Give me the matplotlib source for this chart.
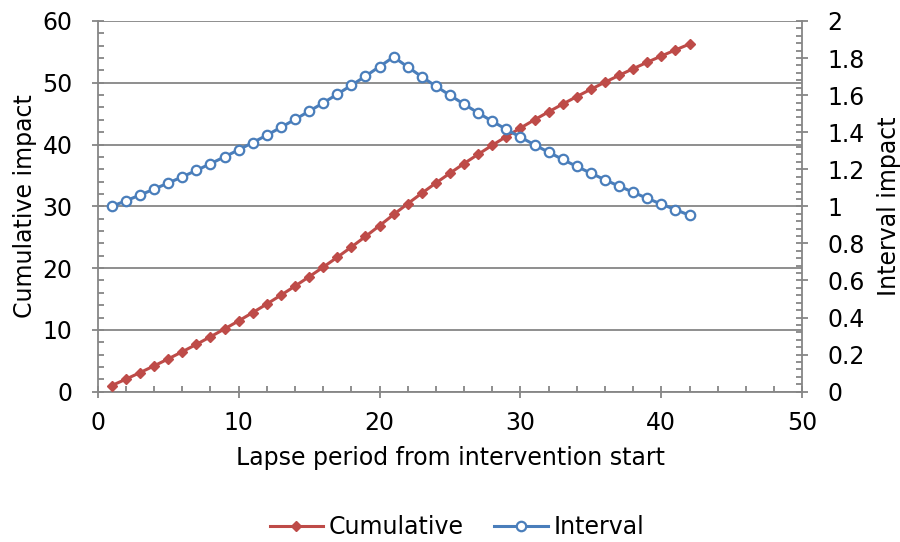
import matplotlib
matplotlib.use("Agg")
import matplotlib.pyplot as plt
from matplotlib.ticker import MultipleLocator, FuncFormatter

# lapse periods 1..42
periods = list(range(1, 43))

interval = [1.000, 1.030, 1.061, 1.093, 1.126, 1.159, 1.194, 1.230, 1.267, 1.305,
            1.344, 1.384, 1.426, 1.469, 1.513, 1.558, 1.605, 1.653, 1.702, 1.754,
            1.806, 1.752, 1.699, 1.648, 1.599, 1.551, 1.504, 1.459, 1.415, 1.373,
            1.332, 1.292, 1.253, 1.215, 1.179, 1.143, 1.109, 1.076, 1.043, 1.012,
            0.982, 0.952]

cumulative = [1.00, 2.03, 3.09, 4.18, 5.31, 6.47, 7.66, 8.89, 10.16, 11.46,
              12.81, 14.19, 15.62, 17.09, 18.60, 20.16, 21.76, 23.41, 25.12, 26.87,
              28.68, 30.43, 32.13, 33.78, 35.37, 36.93, 38.43, 39.89, 41.30, 42.68,
              44.01, 45.30, 46.55, 47.77, 48.95, 50.09, 51.20, 52.28, 53.32, 54.33,
              55.31, 56.27]

RED = "#BE4B48"
BLUE = "#4A7EBB"
GRAY = "#868686"
FS = 17

plt.rcParams["font.family"] = ["DejaVu Sans"]

fig = plt.figure(figsize=(9, 5.42), dpi=100)
ax = fig.add_axes([0.1086, 0.2773, 0.7828, 0.684])
ax2 = ax.twinx()

ax.plot(periods, cumulative, color=RED, lw=2.2, marker="D", ms=4.8,
        mfc=RED, mec=RED, label="Cumulative", clip_on=False, zorder=3)
ax2.plot(periods, interval, color=BLUE, lw=2.2, marker="o", ms=6.8,
         mfc="white", mec=BLUE, mew=1.6, label="Interval", clip_on=False, zorder=3)

ax.set_xlim(0, 50)
ax.set_ylim(0, 60)
ax2.set_ylim(0, 2)

ax.xaxis.set_major_locator(MultipleLocator(10))
ax.xaxis.set_minor_locator(MultipleLocator(2))
ax.yaxis.set_major_locator(MultipleLocator(10))
ax.yaxis.set_minor_locator(MultipleLocator(2))
ax2.yaxis.set_major_locator(MultipleLocator(0.2))
ax2.yaxis.set_minor_locator(MultipleLocator(0.04))
ax2.yaxis.set_major_formatter(FuncFormatter(lambda v, p: ("%.1f" % v).rstrip("0").rstrip(".")))

ax.grid(axis="y", which="major", color=GRAY, lw=1.3)
ax.set_axisbelow(True)

for a in (ax, ax2):
    for s in a.spines.values():
        s.set_visible(False)
    a.tick_params(which="major", direction="inout", length=8, width=1.3,
                  color=GRAY, labelsize=FS, labelcolor="black")
    a.tick_params(which="minor", direction="in", length=4, width=1.3, color=GRAY)

ax.spines["left"].set_visible(True)
ax.spines["bottom"].set_visible(True)
ax2.spines["right"].set_visible(True)
for s in (ax.spines["left"], ax.spines["bottom"], ax2.spines["right"]):
    s.set_color(GRAY)
    s.set_linewidth(1.3)

ax.tick_params(axis="x", which="major", pad=10)
ax.tick_params(axis="y", which="major", pad=14)
ax2.tick_params(axis="y", which="major", pad=14)

ax.set_xlabel("Lapse period from intervention start", fontsize=FS, labelpad=8)
ax.set_ylabel("Cumulative impact", fontsize=FS, labelpad=4)
ax2.set_ylabel("Interval impact", fontsize=FS, labelpad=9)

h1, l1 = ax.get_legend_handles_labels()
h2, l2 = ax2.get_legend_handles_labels()
fig.legend(h1 + h2, l1 + l2, loc="center", bbox_to_anchor=(457 / 900, 1 - 527 / 542),
           ncol=2, frameon=False, fontsize=FS, handlelength=2.25,
           handletextpad=0.25, columnspacing=1.3)

fig.savefig("out.png", dpi=100)
